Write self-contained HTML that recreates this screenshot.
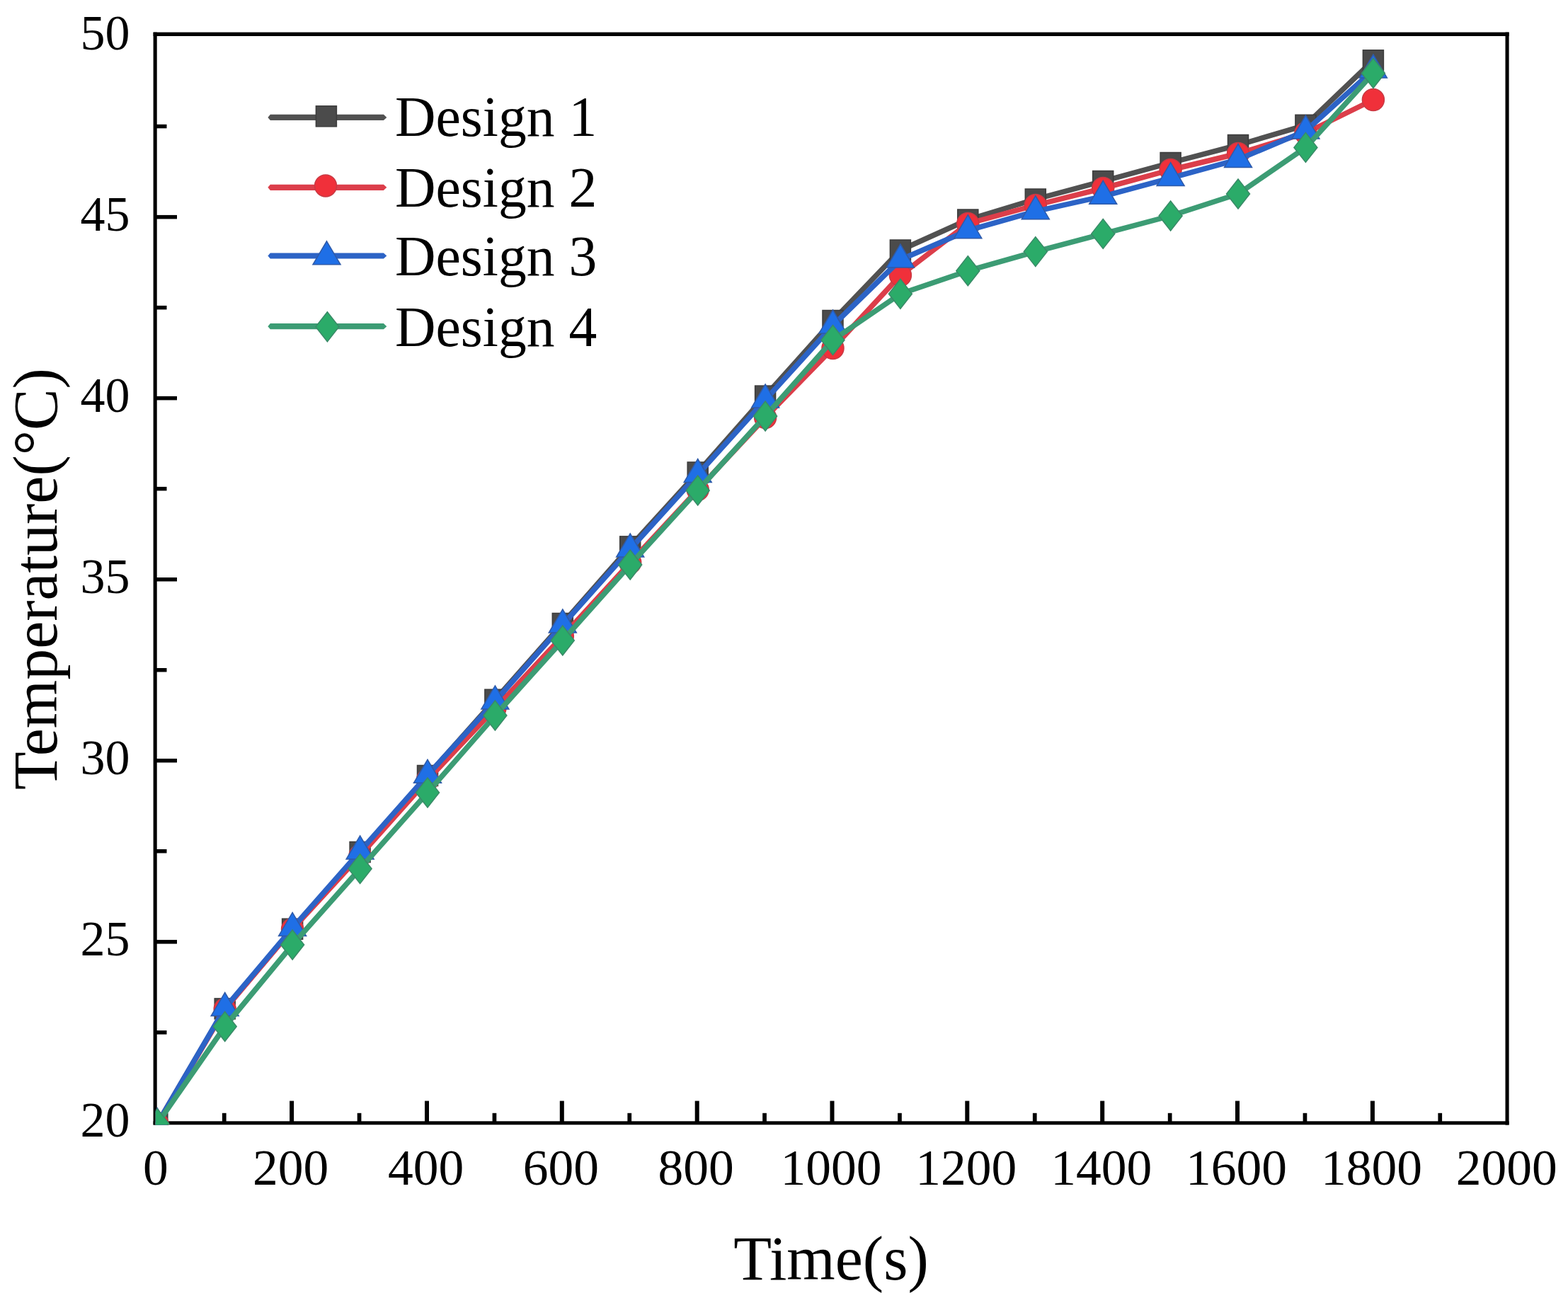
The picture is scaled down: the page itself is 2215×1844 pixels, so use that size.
<!DOCTYPE html>
<html><head><meta charset="utf-8"><title>Temperature vs Time</title>
<style>html,body{margin:0;padding:0;background:#fff;}svg{display:block;}</style>
</head><body>
<svg width="2215" height="1844" viewBox="0 0 2215 1844">
<rect width="2215" height="1844" fill="#fff"/>
<defs><clipPath id="pa"><rect x="219.7" y="51" width="1906.5" height="1538.5"/></clipPath></defs>
<rect x="216.6" y="45.6" width="5.1" height="1544" fill="#000"/>
<rect x="2126.5" y="45.6" width="5.1" height="1544" fill="#000"/>
<rect x="216.6" y="45.6" width="1915" height="5.4" fill="#000"/>
<rect x="216.6" y="1584.3" width="1915" height="5.0" fill="#000"/>
<rect x="219" y="1328.1" width="31" height="5.5" fill="#000"/>
<rect x="219" y="1072.0" width="31" height="5.5" fill="#000"/>
<rect x="219" y="816.0" width="31" height="5.5" fill="#000"/>
<rect x="219" y="559.9" width="31" height="5.5" fill="#000"/>
<rect x="219" y="303.9" width="31" height="5.5" fill="#000"/>
<rect x="219" y="1456.1" width="16.5" height="5.5" fill="#000"/>
<rect x="219" y="1200.0" width="16.5" height="5.5" fill="#000"/>
<rect x="219" y="944.0" width="16.5" height="5.5" fill="#000"/>
<rect x="219" y="687.9" width="16.5" height="5.5" fill="#000"/>
<rect x="219" y="431.9" width="16.5" height="5.5" fill="#000"/>
<rect x="219" y="175.8" width="16.5" height="5.5" fill="#000"/>
<rect x="409.1" y="1555.6" width="6" height="31.4" fill="#000"/>
<rect x="600.0" y="1555.6" width="6" height="31.4" fill="#000"/>
<rect x="790.8" y="1555.6" width="6" height="31.4" fill="#000"/>
<rect x="981.7" y="1555.6" width="6" height="31.4" fill="#000"/>
<rect x="1172.5" y="1555.6" width="6" height="31.4" fill="#000"/>
<rect x="1363.3" y="1555.6" width="6" height="31.4" fill="#000"/>
<rect x="1554.2" y="1555.6" width="6" height="31.4" fill="#000"/>
<rect x="1745.0" y="1555.6" width="6" height="31.4" fill="#000"/>
<rect x="1935.9" y="1555.6" width="6" height="31.4" fill="#000"/>
<rect x="313.9" y="1572.8" width="5.7" height="14.2" fill="#000"/>
<rect x="504.7" y="1572.8" width="5.7" height="14.2" fill="#000"/>
<rect x="695.6" y="1572.8" width="5.7" height="14.2" fill="#000"/>
<rect x="886.4" y="1572.8" width="5.7" height="14.2" fill="#000"/>
<rect x="1077.2" y="1572.8" width="5.7" height="14.2" fill="#000"/>
<rect x="1268.1" y="1572.8" width="5.7" height="14.2" fill="#000"/>
<rect x="1458.9" y="1572.8" width="5.7" height="14.2" fill="#000"/>
<rect x="1649.8" y="1572.8" width="5.7" height="14.2" fill="#000"/>
<rect x="1840.6" y="1572.8" width="5.7" height="14.2" fill="#000"/>
<rect x="2031.4" y="1572.8" width="5.7" height="14.2" fill="#000"/>
<g clip-path="url(#pa)">
<polyline points="222.3,1587.8 317.7,1425.4 413.1,1312.7 508.6,1204.0 604.0,1096.0 699.4,988.7 794.8,881.0 890.2,772.4 985.7,667.5 1081.1,559.6 1176.5,453.0 1271.9,353.5 1367.3,310.5 1462.8,281.5 1558.2,256.0 1653.6,230.0 1749.0,205.0 1844.4,176.8 1939.9,85.3" fill="none" stroke="#515151" stroke-width="7.5" stroke-linejoin="round" stroke-linecap="round"/>
<rect x="207.8" y="1573.3" width="29" height="29" fill="#4b4b4b" stroke="#3c3c3c" stroke-width="1.5"/>
<rect x="303.2" y="1410.9" width="29" height="29" fill="#4b4b4b" stroke="#3c3c3c" stroke-width="1.5"/>
<rect x="398.6" y="1298.2" width="29" height="29" fill="#4b4b4b" stroke="#3c3c3c" stroke-width="1.5"/>
<rect x="494.1" y="1189.5" width="29" height="29" fill="#4b4b4b" stroke="#3c3c3c" stroke-width="1.5"/>
<rect x="589.5" y="1081.5" width="29" height="29" fill="#4b4b4b" stroke="#3c3c3c" stroke-width="1.5"/>
<rect x="684.9" y="974.2" width="29" height="29" fill="#4b4b4b" stroke="#3c3c3c" stroke-width="1.5"/>
<rect x="780.3" y="866.5" width="29" height="29" fill="#4b4b4b" stroke="#3c3c3c" stroke-width="1.5"/>
<rect x="875.7" y="757.9" width="29" height="29" fill="#4b4b4b" stroke="#3c3c3c" stroke-width="1.5"/>
<rect x="971.2" y="653.0" width="29" height="29" fill="#4b4b4b" stroke="#3c3c3c" stroke-width="1.5"/>
<rect x="1066.6" y="545.1" width="29" height="29" fill="#4b4b4b" stroke="#3c3c3c" stroke-width="1.5"/>
<rect x="1162.0" y="438.5" width="29" height="29" fill="#4b4b4b" stroke="#3c3c3c" stroke-width="1.5"/>
<rect x="1257.4" y="339.0" width="29" height="29" fill="#4b4b4b" stroke="#3c3c3c" stroke-width="1.5"/>
<rect x="1352.8" y="296.0" width="29" height="29" fill="#4b4b4b" stroke="#3c3c3c" stroke-width="1.5"/>
<rect x="1448.3" y="267.0" width="29" height="29" fill="#4b4b4b" stroke="#3c3c3c" stroke-width="1.5"/>
<rect x="1543.7" y="241.5" width="29" height="29" fill="#4b4b4b" stroke="#3c3c3c" stroke-width="1.5"/>
<rect x="1639.1" y="215.5" width="29" height="29" fill="#4b4b4b" stroke="#3c3c3c" stroke-width="1.5"/>
<rect x="1734.5" y="190.5" width="29" height="29" fill="#4b4b4b" stroke="#3c3c3c" stroke-width="1.5"/>
<rect x="1829.9" y="162.3" width="29" height="29" fill="#4b4b4b" stroke="#3c3c3c" stroke-width="1.5"/>
<rect x="1925.4" y="70.8" width="29" height="29" fill="#4b4b4b" stroke="#3c3c3c" stroke-width="1.5"/>
<polyline points="222.3,1587.8 317.7,1426.0 413.1,1313.0 508.6,1209.0 604.0,1102.0 699.4,1001.0 794.8,899.0 890.2,795.0 985.7,692.0 1081.1,590.0 1176.5,492.0 1271.9,389.0 1367.3,316.0 1462.8,290.0 1558.2,266.0 1653.6,240.0 1749.0,217.0 1844.4,188.0 1939.9,141.0" fill="none" stroke="#dc3e4a" stroke-width="7.5" stroke-linejoin="round" stroke-linecap="round"/>
<circle cx="222.3" cy="1587.8" r="15.5" fill="#f0303a" stroke="#c83a44" stroke-width="1.5"/>
<circle cx="317.7" cy="1426.0" r="15.5" fill="#f0303a" stroke="#c83a44" stroke-width="1.5"/>
<circle cx="413.1" cy="1313.0" r="15.5" fill="#f0303a" stroke="#c83a44" stroke-width="1.5"/>
<circle cx="508.6" cy="1209.0" r="15.5" fill="#f0303a" stroke="#c83a44" stroke-width="1.5"/>
<circle cx="604.0" cy="1102.0" r="15.5" fill="#f0303a" stroke="#c83a44" stroke-width="1.5"/>
<circle cx="699.4" cy="1001.0" r="15.5" fill="#f0303a" stroke="#c83a44" stroke-width="1.5"/>
<circle cx="794.8" cy="899.0" r="15.5" fill="#f0303a" stroke="#c83a44" stroke-width="1.5"/>
<circle cx="890.2" cy="795.0" r="15.5" fill="#f0303a" stroke="#c83a44" stroke-width="1.5"/>
<circle cx="985.7" cy="692.0" r="15.5" fill="#f0303a" stroke="#c83a44" stroke-width="1.5"/>
<circle cx="1081.1" cy="590.0" r="15.5" fill="#f0303a" stroke="#c83a44" stroke-width="1.5"/>
<circle cx="1176.5" cy="492.0" r="15.5" fill="#f0303a" stroke="#c83a44" stroke-width="1.5"/>
<circle cx="1271.9" cy="389.0" r="15.5" fill="#f0303a" stroke="#c83a44" stroke-width="1.5"/>
<circle cx="1367.3" cy="316.0" r="15.5" fill="#f0303a" stroke="#c83a44" stroke-width="1.5"/>
<circle cx="1462.8" cy="290.0" r="15.5" fill="#f0303a" stroke="#c83a44" stroke-width="1.5"/>
<circle cx="1558.2" cy="266.0" r="15.5" fill="#f0303a" stroke="#c83a44" stroke-width="1.5"/>
<circle cx="1653.6" cy="240.0" r="15.5" fill="#f0303a" stroke="#c83a44" stroke-width="1.5"/>
<circle cx="1749.0" cy="217.0" r="15.5" fill="#f0303a" stroke="#c83a44" stroke-width="1.5"/>
<circle cx="1844.4" cy="188.0" r="15.5" fill="#f0303a" stroke="#c83a44" stroke-width="1.5"/>
<circle cx="1939.9" cy="141.0" r="15.5" fill="#f0303a" stroke="#c83a44" stroke-width="1.5"/>
<polyline points="222.3,1587.8 317.7,1424.5 413.1,1311.4 508.6,1203.0 604.0,1095.3 699.4,990.9 794.8,883.0 890.2,776.0 985.7,670.5 1081.1,565.0 1176.5,460.0 1271.9,367.0 1367.3,325.7 1462.8,298.7 1558.2,277.3 1653.6,251.6 1749.0,225.4 1844.4,185.0 1939.9,99.0" fill="none" stroke="#2c63c6" stroke-width="7.5" stroke-linejoin="round" stroke-linecap="round"/>
<polygon points="222.3,1565.8 241.8,1598.8 202.8,1598.8" fill="#1f6fe6" stroke="#2f5aa8" stroke-width="1.5" stroke-linejoin="miter"/>
<polygon points="317.7,1402.5 337.2,1435.5 298.2,1435.5" fill="#1f6fe6" stroke="#2f5aa8" stroke-width="1.5" stroke-linejoin="miter"/>
<polygon points="413.1,1289.4 432.6,1322.4 393.6,1322.4" fill="#1f6fe6" stroke="#2f5aa8" stroke-width="1.5" stroke-linejoin="miter"/>
<polygon points="508.6,1181.0 528.1,1214.0 489.1,1214.0" fill="#1f6fe6" stroke="#2f5aa8" stroke-width="1.5" stroke-linejoin="miter"/>
<polygon points="604.0,1073.3 623.5,1106.3 584.5,1106.3" fill="#1f6fe6" stroke="#2f5aa8" stroke-width="1.5" stroke-linejoin="miter"/>
<polygon points="699.4,968.9 718.9,1001.9 679.9,1001.9" fill="#1f6fe6" stroke="#2f5aa8" stroke-width="1.5" stroke-linejoin="miter"/>
<polygon points="794.8,861.0 814.3,894.0 775.3,894.0" fill="#1f6fe6" stroke="#2f5aa8" stroke-width="1.5" stroke-linejoin="miter"/>
<polygon points="890.2,754.0 909.7,787.0 870.7,787.0" fill="#1f6fe6" stroke="#2f5aa8" stroke-width="1.5" stroke-linejoin="miter"/>
<polygon points="985.7,648.5 1005.2,681.5 966.2,681.5" fill="#1f6fe6" stroke="#2f5aa8" stroke-width="1.5" stroke-linejoin="miter"/>
<polygon points="1081.1,543.0 1100.6,576.0 1061.6,576.0" fill="#1f6fe6" stroke="#2f5aa8" stroke-width="1.5" stroke-linejoin="miter"/>
<polygon points="1176.5,438.0 1196.0,471.0 1157.0,471.0" fill="#1f6fe6" stroke="#2f5aa8" stroke-width="1.5" stroke-linejoin="miter"/>
<polygon points="1271.9,345.0 1291.4,378.0 1252.4,378.0" fill="#1f6fe6" stroke="#2f5aa8" stroke-width="1.5" stroke-linejoin="miter"/>
<polygon points="1367.3,303.7 1386.8,336.7 1347.8,336.7" fill="#1f6fe6" stroke="#2f5aa8" stroke-width="1.5" stroke-linejoin="miter"/>
<polygon points="1462.8,276.7 1482.3,309.7 1443.3,309.7" fill="#1f6fe6" stroke="#2f5aa8" stroke-width="1.5" stroke-linejoin="miter"/>
<polygon points="1558.2,255.3 1577.7,288.3 1538.7,288.3" fill="#1f6fe6" stroke="#2f5aa8" stroke-width="1.5" stroke-linejoin="miter"/>
<polygon points="1653.6,229.6 1673.1,262.6 1634.1,262.6" fill="#1f6fe6" stroke="#2f5aa8" stroke-width="1.5" stroke-linejoin="miter"/>
<polygon points="1749.0,203.4 1768.5,236.4 1729.5,236.4" fill="#1f6fe6" stroke="#2f5aa8" stroke-width="1.5" stroke-linejoin="miter"/>
<polygon points="1844.4,163.0 1863.9,196.0 1824.9,196.0" fill="#1f6fe6" stroke="#2f5aa8" stroke-width="1.5" stroke-linejoin="miter"/>
<polygon points="1939.9,77.0 1959.4,110.0 1920.4,110.0" fill="#1f6fe6" stroke="#2f5aa8" stroke-width="1.5" stroke-linejoin="miter"/>
<polyline points="222.3,1587.8 317.7,1450.5 413.1,1335.0 508.6,1227.6 604.0,1120.0 699.4,1011.0 794.8,905.0 890.2,798.0 985.7,693.0 1081.1,588.0 1176.5,480.5 1271.9,415.3 1367.3,382.7 1462.8,355.6 1558.2,330.4 1653.6,305.0 1749.0,274.0 1844.4,208.4 1939.9,103.5" fill="none" stroke="#3c9c74" stroke-width="7.5" stroke-linejoin="round" stroke-linecap="round"/>
<polygon points="222.3,1566.8 238.8,1587.8 222.3,1608.8 205.8,1587.8" fill="#2bab69" stroke="#3a8a68" stroke-width="1.5"/>
<polygon points="317.7,1429.5 334.2,1450.5 317.7,1471.5 301.2,1450.5" fill="#2bab69" stroke="#3a8a68" stroke-width="1.5"/>
<polygon points="413.1,1314.0 429.6,1335.0 413.1,1356.0 396.6,1335.0" fill="#2bab69" stroke="#3a8a68" stroke-width="1.5"/>
<polygon points="508.6,1206.6 525.1,1227.6 508.6,1248.6 492.1,1227.6" fill="#2bab69" stroke="#3a8a68" stroke-width="1.5"/>
<polygon points="604.0,1099.0 620.5,1120.0 604.0,1141.0 587.5,1120.0" fill="#2bab69" stroke="#3a8a68" stroke-width="1.5"/>
<polygon points="699.4,990.0 715.9,1011.0 699.4,1032.0 682.9,1011.0" fill="#2bab69" stroke="#3a8a68" stroke-width="1.5"/>
<polygon points="794.8,884.0 811.3,905.0 794.8,926.0 778.3,905.0" fill="#2bab69" stroke="#3a8a68" stroke-width="1.5"/>
<polygon points="890.2,777.0 906.7,798.0 890.2,819.0 873.7,798.0" fill="#2bab69" stroke="#3a8a68" stroke-width="1.5"/>
<polygon points="985.7,672.0 1002.2,693.0 985.7,714.0 969.2,693.0" fill="#2bab69" stroke="#3a8a68" stroke-width="1.5"/>
<polygon points="1081.1,567.0 1097.6,588.0 1081.1,609.0 1064.6,588.0" fill="#2bab69" stroke="#3a8a68" stroke-width="1.5"/>
<polygon points="1176.5,459.5 1193.0,480.5 1176.5,501.5 1160.0,480.5" fill="#2bab69" stroke="#3a8a68" stroke-width="1.5"/>
<polygon points="1271.9,394.3 1288.4,415.3 1271.9,436.3 1255.4,415.3" fill="#2bab69" stroke="#3a8a68" stroke-width="1.5"/>
<polygon points="1367.3,361.7 1383.8,382.7 1367.3,403.7 1350.8,382.7" fill="#2bab69" stroke="#3a8a68" stroke-width="1.5"/>
<polygon points="1462.8,334.6 1479.3,355.6 1462.8,376.6 1446.3,355.6" fill="#2bab69" stroke="#3a8a68" stroke-width="1.5"/>
<polygon points="1558.2,309.4 1574.7,330.4 1558.2,351.4 1541.7,330.4" fill="#2bab69" stroke="#3a8a68" stroke-width="1.5"/>
<polygon points="1653.6,284.0 1670.1,305.0 1653.6,326.0 1637.1,305.0" fill="#2bab69" stroke="#3a8a68" stroke-width="1.5"/>
<polygon points="1749.0,253.0 1765.5,274.0 1749.0,295.0 1732.5,274.0" fill="#2bab69" stroke="#3a8a68" stroke-width="1.5"/>
<polygon points="1844.4,187.4 1860.9,208.4 1844.4,229.4 1827.9,208.4" fill="#2bab69" stroke="#3a8a68" stroke-width="1.5"/>
<polygon points="1939.9,82.5 1956.4,103.5 1939.9,124.5 1923.4,103.5" fill="#2bab69" stroke="#3a8a68" stroke-width="1.5"/>
</g>
<text x="183.5" y="1606.3" text-anchor="end" font-family="'Liberation Serif','Times New Roman',serif" font-size="70">20</text>
<text x="183.5" y="1350.3" text-anchor="end" font-family="'Liberation Serif','Times New Roman',serif" font-size="70">25</text>
<text x="183.5" y="1094.2" text-anchor="end" font-family="'Liberation Serif','Times New Roman',serif" font-size="70">30</text>
<text x="183.5" y="838.2" text-anchor="end" font-family="'Liberation Serif','Times New Roman',serif" font-size="70">35</text>
<text x="183.5" y="582.2" text-anchor="end" font-family="'Liberation Serif','Times New Roman',serif" font-size="70">40</text>
<text x="183.5" y="326.1" text-anchor="end" font-family="'Liberation Serif','Times New Roman',serif" font-size="70">45</text>
<text x="183.5" y="70.1" text-anchor="end" font-family="'Liberation Serif','Times New Roman',serif" font-size="70">50</text>
<text x="219.8" y="1674.2" text-anchor="middle" font-family="'Liberation Serif','Times New Roman',serif" font-size="71.5">0</text>
<text x="410.6" y="1674.2" text-anchor="middle" font-family="'Liberation Serif','Times New Roman',serif" font-size="71.5">200</text>
<text x="601.5" y="1674.2" text-anchor="middle" font-family="'Liberation Serif','Times New Roman',serif" font-size="71.5">400</text>
<text x="792.3" y="1674.2" text-anchor="middle" font-family="'Liberation Serif','Times New Roman',serif" font-size="71.5">600</text>
<text x="983.2" y="1674.2" text-anchor="middle" font-family="'Liberation Serif','Times New Roman',serif" font-size="71.5">800</text>
<text x="1174.0" y="1674.2" text-anchor="middle" font-family="'Liberation Serif','Times New Roman',serif" font-size="71.5">1000</text>
<text x="1364.8" y="1674.2" text-anchor="middle" font-family="'Liberation Serif','Times New Roman',serif" font-size="71.5">1200</text>
<text x="1555.7" y="1674.2" text-anchor="middle" font-family="'Liberation Serif','Times New Roman',serif" font-size="71.5">1400</text>
<text x="1746.5" y="1674.2" text-anchor="middle" font-family="'Liberation Serif','Times New Roman',serif" font-size="71.5">1600</text>
<text x="1937.4" y="1674.2" text-anchor="middle" font-family="'Liberation Serif','Times New Roman',serif" font-size="71.5">1800</text>
<text x="2128.2" y="1674.2" text-anchor="middle" font-family="'Liberation Serif','Times New Roman',serif" font-size="71.5">2000</text>
<text x="1174" y="1807.7" text-anchor="middle" font-family="'Liberation Serif','Times New Roman',serif" font-size="88">Time(s)</text>
<text transform="translate(80,818) rotate(-90)" text-anchor="middle" font-family="'Liberation Serif','Times New Roman',serif" font-size="88">Temperature(°C)</text>
<polygon points="378.4,165.9 381.8,161.8 541.9,161.8 546.3,165.9 541.9,170.0 381.8,170.0" fill="#515151"/>
<rect x="446.4" y="149.8" width="29" height="29" fill="#4b4b4b" stroke="#3c3c3c" stroke-width="1.5"/>
<text x="558" y="192.1" font-family="'Liberation Serif','Times New Roman',serif" font-size="79.6">Design 1</text>
<polygon points="378.4,264.8 381.8,260.7 541.9,260.7 546.3,264.8 541.9,268.9 381.8,268.9" fill="#dc3e4a"/>
<circle cx="460.0" cy="262.4" r="15.5" fill="#f0303a" stroke="#c83a44" stroke-width="1.5"/>
<text x="558" y="292.1" font-family="'Liberation Serif','Times New Roman',serif" font-size="79.6">Design 2</text>
<polygon points="378.4,361.5 381.8,357.4 541.9,357.4 546.3,361.5 541.9,365.6 381.8,365.6" fill="#2c63c6"/>
<polygon points="461.5,340.8 481.0,373.8 442.0,373.8" fill="#1f6fe6" stroke="#2f5aa8" stroke-width="1.5" stroke-linejoin="miter"/>
<text x="558" y="388.6" font-family="'Liberation Serif','Times New Roman',serif" font-size="79.6">Design 3</text>
<polygon points="378.4,461.2 381.8,457.1 541.9,457.1 546.3,461.2 541.9,465.3 381.8,465.3" fill="#3c9c74"/>
<polygon points="462.4,440.8 478.9,461.8 462.4,482.8 445.9,461.8" fill="#2bab69" stroke="#3a8a68" stroke-width="1.5"/>
<text x="558" y="488.6" font-family="'Liberation Serif','Times New Roman',serif" font-size="79.6">Design 4</text>
</svg>
</body></html>
